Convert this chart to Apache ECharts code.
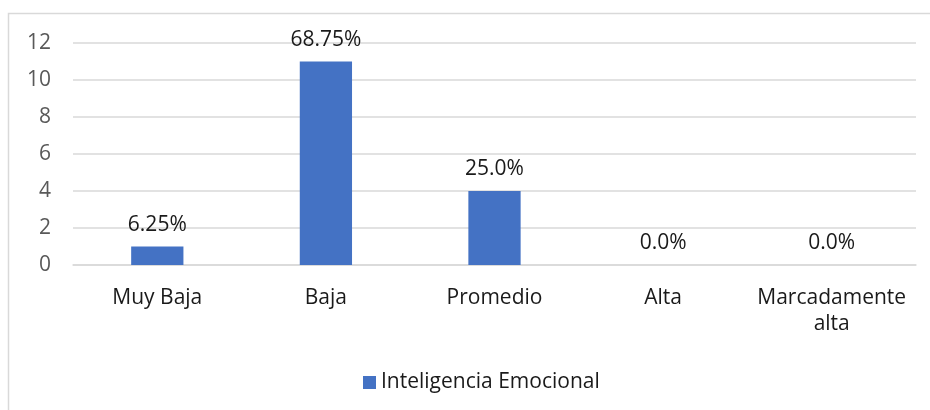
<!DOCTYPE html>
<html>
<head>
<meta charset="utf-8">
<script src="https://cdn.jsdelivr.net/npm/echarts@6/dist/echarts.min.js"></script>
<style>
  html, body { margin: 0; padding: 0; background: #fff; }
  #chart { width: 930px; height: 410px; }
</style>
</head>
<body>
<div id="chart"></div>
<script>
const categories = ['Muy Baja', 'Baja', 'Promedio', 'Alta', 'Marcadamente alta'];
const counts = [1, 11, 4, 0, 0];
const percentLabels = ['6.25%', '68.75%', '25.0%', '0.0%', '0.0%'];
const seriesName = 'Inteligencia Emocional';
const font = '"Open Sans", Lato, sans-serif';

const chart = echarts.init(document.getElementById('chart'));

chart.setOption({
  backgroundColor: '#ffffff',
  animation: false,
  textStyle: { fontFamily: font },
  graphic: [{
    type: 'rect',
    shape: { x: 8.5, y: 13.5, width: 960, height: 440 },
    style: { fill: 'none', stroke: '#d9d9d9', lineWidth: 1.5 },
    silent: true
  }],
  grid: { left: 73, right: 14, top: 43, bottom: 145, containLabel: false },
  legend: {
    data: [seriesName],
    top: 367,
    left: 358,
    icon: 'rect',
    itemWidth: 13,
    itemHeight: 13,
    itemGap: 6,
    itemStyle: { borderWidth: 0 },
    textStyle: { color: '#1a1a1a', fontSize: 21, fontFamily: font }
  },
  xAxis: {
    type: 'category',
    data: categories,
    axisLine: { show: true, lineStyle: { color: '#d9d9d9', width: 1.5 } },
    axisTick: { show: false },
    axisLabel: {
      color: '#1a1a1a',
      fontSize: 21,
      margin: 20,
      lineHeight: 26,
      interval: 0,
      formatter: v => v.length > 12 ? v.replace(' ', '\n') : v
    }
  },
  yAxis: {
    type: 'value',
    min: 0,
    max: 12,
    interval: 2,
    axisLine: { show: false },
    axisTick: { show: false },
    axisLabel: { color: '#595959', fontSize: 21, margin: 22 },
    splitLine: { lineStyle: { color: '#d9d9d9', width: 1.5 } }
  },
  series: [{
    name: seriesName,
    type: 'bar',
    data: counts,
    barWidth: '31%',
    itemStyle: { color: '#4472c4' },
    label: {
      show: true,
      position: 'top',
      distance: 11,
      color: '#1a1a1a',
      fontSize: 21,
      fontFamily: font,
      formatter: p => percentLabels[p.dataIndex]
    }
  }]
});
</script>
</body>
</html>
